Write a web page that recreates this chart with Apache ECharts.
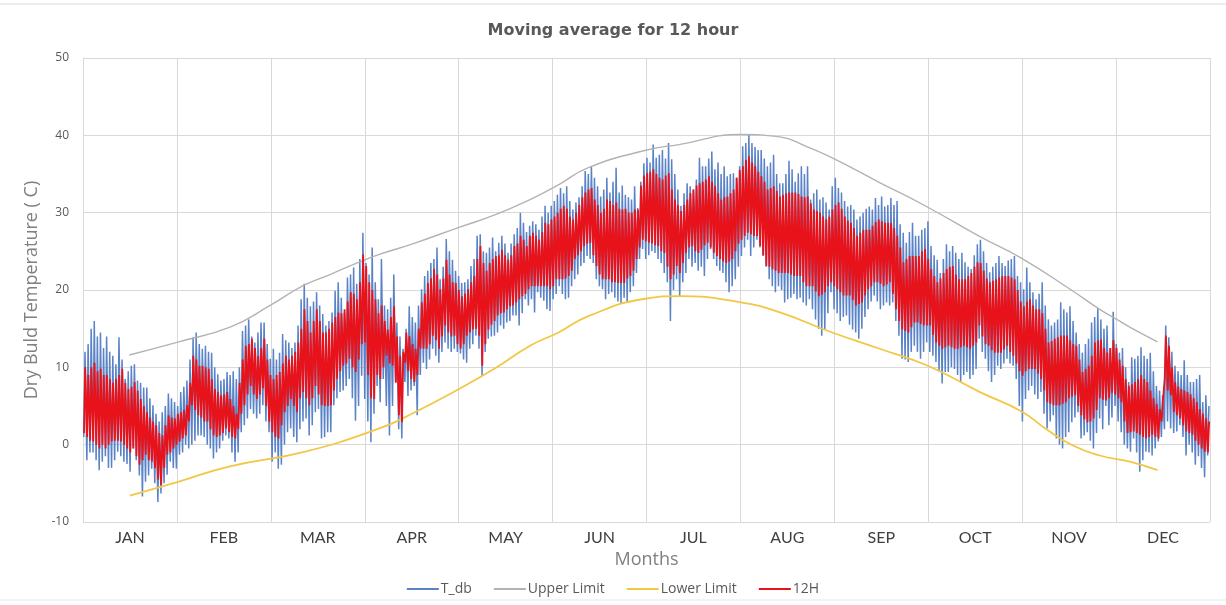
<!DOCTYPE html>
<html>
<head>
<meta charset="utf-8">
<script src="https://cdn.jsdelivr.net/npm/echarts@6/dist/echarts.min.js"></script>
<style>
html,body{margin:0;padding:0;background:#fff;}
#chart{width:1226px;height:605px;}
</style>
</head>
<body>
<div id="chart"></div>
<script>
// ---- DATA ----
const months = ['JAN','FEB','MAR','APR','MAY','JUN','JUL','AUG','SEP','OCT','NOV','DEC'];
const yTicks = [-10, 0, 10, 20, 30, 40, 50];

// Daily maximum / minimum of hourly dry bulb temperature (T_db), day 0..364
const tdbMax = [
12,13,15,16,14,14.5,12.5,14,12,11.5,
10.4,13.9,11,8.5,9.5,10.2,10.4,8.3,8,7.4,
7.4,6,5.1,4,3,4.2,5,6.6,6,5.5,
5,6.8,7.5,8.3,11,13.9,14.5,13,12.4,12.8,
12,11.9,10,9.1,8.3,8.5,9.4,9,9.5,8.5,
10,14.7,15.4,16.2,14,13.2,14.5,15.8,15.8,13,
11.1,12.4,11,11.9,14.3,13.5,13.2,12.5,13.2,15.4,
18.8,20.8,19,17.9,18.5,19.7,18,16.9,15.4,16,
17.1,19.9,21,19,17.1,21.6,22,22.9,20.8,24,
27.4,23.5,22,25.5,21,18.8,24,18,17.5,19,
22,15.8,14,12.4,15,17.9,16.5,15.8,18,20.1,
21.8,22.5,23.5,24,25.5,21.4,23,26.6,25,23.9,
22.5,21.8,20.9,21,21.4,23.1,24,27,27.2,25,
24.8,25.5,26.8,25,26.1,27,26,24.8,26,27.2,
28,30,28.7,27.5,28.3,28.9,28.5,27.8,29.5,30.9,
30,30.9,31.5,32.3,33.2,32.5,33.4,31.5,30.4,31.3,
32,33.4,35.4,35,36,34.5,33.4,32.1,33,34.5,
32.6,34,35.8,32.6,33.5,32.3,32,31.7,33.4,30.6,
34,36.4,37.1,36.5,38.8,37.1,37.5,38.1,37,39,
36.9,35,33,30.9,32.5,33.8,33.4,33,34.3,37.1,
36,36,37,37.9,35.6,36.5,35,36,34.7,35,
35.1,34.5,36,38.6,39,40.1,39,38.5,38.1,38.1,
37,36,36.5,37.5,35,33.8,33.8,35,36.7,35.6,
34,35.1,36,35,36,31.7,32.5,33,31.7,32,
31.3,30.4,33.4,34.5,33.2,32.6,31.5,30.8,31,30.4,
29.1,29.5,30,30.5,30.8,30.4,31.9,31,32.1,30.8,
31,31.9,31,31.5,28.5,27.4,26.1,27.5,28.7,27,
27,27.8,28,28.9,25.7,24.5,23.9,22.2,24,25.9,
25,25.7,24.8,24,24.8,23.6,23,22.7,24.5,25.9,
26.5,25,23.5,22.3,23,23.5,24.4,23.5,23.1,23.8,
24,24.4,21.8,21,20.1,22.9,21,19.7,18.8,19.5,
21,18,16.2,15.4,15.8,16.2,18.4,17.5,17.1,17.9,
16,14.5,13,11.9,13,13.7,15.8,16.5,17.7,16.2,
15,15.4,12.4,17.2,13,11.9,12.5,10,8.1,11.3,
11.1,11.5,12.6,11.5,11.1,11.9,9.5,7.6,7,6.4,
15.4,13.9,12,10.2,9.5,9,10.9,9,8.1,8.1,8.5,9,5.5,6.4,5
];
const tdbMin = [
1,-2,-1,-1,-2,-3.3,-2.2,-1.5,-3,-3,
-2,-0.9,-1.5,-2.2,-2.5,-3.5,-0.5,-2,-4,-6.7,
-4.8,-4,-3.1,-5,-7.4,-6.3,-5,-3.9,-2.2,-3,
-3.1,-1.3,-1,0,-0.5,0,0.5,1.2,1.2,1,
0,-0.5,-1.8,-1,-0.5,0.5,1.2,0.8,-1,-2.2,
-1,1.6,2.5,3.4,4.6,4,3.4,4,5.1,3,
1.6,-2.2,-1,-3.1,-2.6,0,1.6,2.1,1,0.3,
2,3,3.4,1.2,2.5,4.2,4.6,0.8,1,1.6,
1.6,5.1,6,6.8,7,7.6,8.5,6,3.1,5,
8.9,5.9,3,0.3,4,7.6,5.5,8.5,5,1.2,
5,8.1,2,0.8,8.1,6.3,7,7.6,3.8,9,
10.6,9.8,11,12.4,11.5,10.6,12,13.2,12.4,12,
12.4,12,11.8,11,10.6,12.4,13,14.1,12.4,8.9,
12,13.7,14,14.1,14.5,15.4,15,15.8,16,16.7,
16.7,15.4,17,18.8,18,18.8,17.1,19.7,19,18.6,
17.5,17.3,18.8,19.5,20.5,19.5,18.8,19,20.5,21.4,
22,23.1,23.5,24.4,24,23.5,21.4,20.5,20.1,18.8,
19.5,19.7,19,18.5,18.2,19,18.4,19.7,20.5,22.2,
24,25.3,24,24.5,25,24.8,24,23.5,22.2,21,
16,20,21.4,19.2,21,22.2,24,23,23.5,22.5,
23,21.8,24,25.3,24,23.1,22.5,22.2,21,19.7,
20.5,21.4,23,24.4,25.5,26.5,24.4,25.5,26.5,25.5,
24.4,23,21.4,20.5,19.7,20.5,20,18.4,18.8,19,
19.5,18.8,19,18.4,18,18.8,17.5,16.2,15,14.1,
14.9,17,19.7,17.5,17,16,16.5,16.7,15.5,14.9,
14.5,13.7,15,16.5,17.5,18.5,19.3,18.5,17.5,18,
18.4,18,18.4,16,14.1,11.1,11,10.7,12,12.8,
12,11.1,12,13.2,12,11.5,10.7,9.5,7.9,9.4,
9.4,10,9.8,9,8.1,9,9.4,8.5,9,9.8,
13.7,12,11.1,9.5,8.1,9,10.2,9.8,10.5,11.1,
10.5,10.2,8.5,5,3,5.9,7,7.6,6.5,5.9,
6.8,4,2.1,3,3.8,0.8,0,-0.5,1,1.6,
2.9,3.5,4.2,0.8,1.2,1.6,0.5,-0.5,1.5,3.4,
2,5,2.5,3.5,5,3,1.6,0,-0.5,-0.9,
0.8,-1,-3.5,-2,-0.9,-1,-1.4,-0.5,0.4,1,
2,3,2.1,1.5,1.7,2.5,1,-1.4,0,-1,-2.6,-1.5,-3,-4.2,-1.4
];

// Daily maximum / minimum of the 12-hour moving average (12H), day 0..364
const h12Max = [
10,9,10,10.6,9.5,9.8,9,9,8.5,8,
8.5,9,9.8,8,7.2,7.5,8.1,7,5.9,5,
4.2,3.5,3,2.5,1.5,1.2,2.5,3.8,3.5,3.4,
4,4.2,4.5,5.1,8,11.5,11,10.2,10.2,10,
9.8,8.5,7.2,6.8,6.4,6.5,6.8,5.9,5,4,
8,11,12.8,13,13.7,12.5,11.5,12.5,13.7,11,
9,8.5,9,9.4,10.5,11.5,11,11.5,12,13.2,
15,17.5,16,14.5,16,17.5,16,14.5,14.5,15,
15.8,16.5,17.1,17,17.5,18.5,19.7,19.5,18.8,21,
24.6,23.1,21,20,18.8,17,18,16,14.9,16.5,
17.9,14,11.5,12,14.5,14,13,12.4,15,18.4,
19.5,20.9,21.5,22.7,22,20.1,21.5,23.9,22,21,
20.9,20,19.2,19.5,20.1,21,21.8,24,25.7,23.5,
22.5,23.5,24,24.4,24.5,25.2,24.5,23.9,24.5,25.7,
26,27,26.5,25.7,27,27.4,27,26.5,27.5,28.7,
28.5,29.1,29.5,30,30.5,30.9,30.5,29.5,29.1,30,
31,32,32.6,33,33.2,31.7,31,30,30.5,31.7,
31.5,31,31.3,30.5,30.4,30.5,30,30,30.4,30.4,
33.5,34.8,35.1,35.3,35.6,35,34.5,34.3,34.8,35.1,
33,31.7,31,30.2,31,31.7,32.5,33,33.5,33.8,
34,34.3,34.7,34,33.4,32.5,31.7,32,32.1,32.5,
33,34.5,35.5,36,36.8,37.3,36.5,36,35.3,34.7,
34,33,33.2,33.4,32.8,32.1,32.3,32.5,32.6,32.6,
32.6,32.4,32.1,32,32.1,31.2,30.4,30.2,30,29.5,
29.1,29.5,30.4,31,31.3,30.5,29.5,29,28.7,28,
27,27.4,27.8,27.8,27.8,28.3,28.8,29.1,28.9,28.7,
28.7,28.7,28,27,25.5,23.6,24,24.4,24.4,24.4,
24.4,25,25.3,24,22.7,21.8,21,21.5,22.2,22.7,
23,23.1,22,21.4,21.4,21.4,21.8,22.2,23,23.6,
23.5,22.5,21.5,21,21.2,21.4,21.6,21.8,21.8,21.8,
21.6,21.4,20,18.5,17.9,18.5,18.8,18,17.5,17.5,
17,15,13.2,13.4,13.7,13.9,14.1,14.1,14.1,13.5,
13,12.8,11,9.4,9.8,10.2,11.5,13.2,13.5,13.6,
12.5,11.9,12.5,13.5,12.5,11,10.2,8.5,7.6,7.8,
8.1,8.5,9,8.5,8.1,7,6,5.3,4.6,5.5,
14.1,12.8,10,8.1,7.5,7.2,7,6.8,6.5,6,5.5,4.6,4,3.4,3
];
const h12Min = [
1.5,1,0.5,0.4,0,-0.5,0,-0.5,0,0.4,
0.5,0.5,0.4,0,-0.5,-1,-0.5,-1.5,-2.6,-2,
-1.3,-2,-2.2,-3,-4.5,-5.2,-3,-1.3,-1,-0.5,
0,0.4,0.8,1.2,3,5.1,4.5,3.8,3.5,3,
3,2,1.2,1,1.2,1.5,2.1,1.6,1,0.8,
2,4,5.1,6.5,7.6,6.5,5.9,6.5,7.3,5,
3,1.6,1,0.8,2.5,4.2,5,5.9,5,4.2,
6,6.8,6,5.1,6,7.6,6.5,5.1,5,5,
5.1,7,8.5,9.5,10.2,10.5,11.1,10,9.4,11,
13,13.2,9,6,5.9,9,8.5,10,11.5,10.5,
10.2,8,3.8,2.9,10.6,9.5,8.5,8.1,9,12.4,
12.4,12.4,13,14.1,13.5,12.4,14,15.4,14.5,14,
14.1,13,12.4,13,14.1,14.5,14.9,15,14.1,10.2,
13,14.9,15.5,16,16.7,17,17.1,17.5,17.9,18,
18.4,18.8,19.2,19.5,20.1,20.5,20.5,20.5,20.5,20.5,
20.5,20.1,20.5,21.4,21.4,21.4,21.5,21.8,22.5,24,
24.5,25,25.7,26,26.1,24.5,23.1,22,21.4,21.4,
21.4,21,21,20.9,20.9,20.9,21.5,21.8,22.5,24,
25.5,26.5,26.3,26.1,26,25.8,25.7,25,24.8,23,
21.4,22,23.1,22.2,23.5,24.8,25.5,25.7,25,24.8,
25.2,25.8,26.1,25.5,24.8,24.4,24,23.7,23.5,23.7,
24,25,26,26.5,27,27.4,27.2,27,27,25.7,
24.5,23.1,23,22.7,22.5,22.2,22.2,22.2,22.2,22,
21.8,21.8,21.8,21,20.5,20.5,20.5,19.8,19.2,19.4,
19.7,20.5,21,20.5,20.1,19.7,19.3,19.3,19.3,18.7,
18,18.2,18.4,19.3,20.1,20.5,21,21,20.8,20.5,
20.7,21,19.5,17.5,16,14.9,14.7,14.5,15.2,15.8,
15.8,15.6,15.4,15.4,15.4,14.2,13.2,12.8,12.4,12.6,
12.8,12.6,12.4,12.4,12.6,12.8,12.6,12.4,12.8,13.2,
15.4,14,13,12.8,12.2,11.9,11.9,11.9,12.3,12.8,
12,11.5,10.5,9.5,8.9,9.5,9.8,9.8,9.8,9.2,
8.5,7,5.5,5.3,5.1,5.1,5.1,5.3,5.5,6,
6.2,6.4,5,3.8,3.3,2.9,3,3.4,4.5,6,
5.8,5.7,6,6.7,6.5,6,5.5,3,1.5,1.6,
1.7,1.5,1.3,1,0.8,1,1.3,1,0.8,3,
8.5,7,6.4,4.2,3.8,3.4,2.5,1.7,1.5,1.3,0.5,0,-0.5,-0.9,-1
];

// Upper / Lower comfort limits: [day of year, temperature]
const upperLimit = [
[15,11.6],[31,13.3],[47.6,15.2],[60.6,18],[71,20.5],[80,22],[90,23.7],[96,24.6],[107,26],
[121.8,28.1],[134,29.8],[144.8,31.7],[154,33.6],[163.5,35.8],[182.6,38.1],[193,38.8],
[213,40.1],[225.7,39.8],[234,38.6],[242,37.2],[258,33.9],[273.6,30.7],[290.5,26.9],
[304,24.1],[319.7,20.1],[329.3,17.5],[334.8,16.2],[339,15.2],[348,13.3]
];
const lowerLimit = [
[15.2,-6.6],[30.8,-4.8],[47.6,-2.8],[72,-0.9],[96,2.1],[107,4.1],[121.8,7.2],[134,10],
[144.8,12.8],[154,14.5],[163.5,16.6],[182.6,18.9],[193,19.2],[213,18.4],[225.7,17.1],
[242,14.6],[258,12.4],[273.6,10.2],[290.5,6.8],[304,4.3],[312,2],[320.6,-0.1],
[329.3,-1.4],[339,-2.2],[348,-3.3]
];

// ---- build hourly-like zigzag series from daily extremes ----
const tdbSeries = [];
const h12Series = [];
for (let d = 0; d < tdbMax.length; d++) {
  tdbSeries.push([d + 0.25, tdbMin[d]], [d + 0.65, tdbMax[d]]);
}
for (let d = 0; d < h12Max.length; d++) {
  h12Series.push([d + 0.32, h12Min[d]], [d + 0.72, h12Max[d]]);
}

const chart = echarts.init(document.getElementById('chart'), null, {renderer: 'canvas'});
const gridColor = '#d9d9d9';
chart.setOption({
  animation: false,
  backgroundColor: '#ffffff',
  title: {
    text: 'Moving average for 12 hour',
    left: 'center',
    top: 18,
    textStyle: {fontFamily: 'DejaVu Sans', fontWeight: 'bold', fontSize: 16, color: '#595959'}
  },
  graphic: [
    {type: 'line', shape: {x1: 0, y1: 4, x2: 1226, y2: 4}, style: {stroke: '#d9d9d9', lineWidth: 1}, silent: true},
    {type: 'line', shape: {x1: 0, y1: 600, x2: 1226, y2: 600}, style: {stroke: '#e6e6e6', lineWidth: 1}, silent: true}
  ],
  legend: {
    left: 'center',
    top: 577,
    icon: 'rect',
    itemWidth: 32,
    itemHeight: 2,
    itemGap: 22,
    textStyle: {fontFamily: 'Open Sans', fontSize: 14, color: '#595959', padding: [0, 0, 0, -3]},
    data: ['T_db', 'Upper Limit', 'Lower Limit', '12H']
  },
  grid: {left: 83, right: 16, top: 58, bottom: 83, containLabel: false},
  xAxis: [
    {
      type: 'value', min: 0, max: 365, interval: 365 / 12,
      axisLabel: {show: false},
      axisTick: {show: false},
      axisLine: {show: true, lineStyle: {color: gridColor}},
      splitLine: {show: true, lineStyle: {color: gridColor, width: 1}}
    },
    {
      type: 'category', data: months, position: 'bottom', boundaryGap: true,
      axisLine: {show: false}, axisTick: {show: false}, splitLine: {show: false},
      axisLabel: {fontFamily: 'Lato', fontSize: 16, color: '#404040', margin: 8},
      name: 'Months', nameLocation: 'middle', nameGap: 27,
      nameTextStyle: {fontFamily: 'Open Sans', fontSize: 18, color: '#808080'}
    }
  ],
  yAxis: {
    type: 'value', min: yTicks[0], max: yTicks[yTicks.length - 1], interval: 10,
    name: 'Dry Buld Temperature ( C)', nameLocation: 'middle', nameGap: 42,
    nameTextStyle: {fontFamily: 'Open Sans', fontSize: 18, color: '#808080'},
    axisLabel: {fontFamily: 'Open Sans', fontSize: 12, color: '#595959', margin: 14},
    axisTick: {show: false},
    axisLine: {show: true, lineStyle: {color: gridColor}},
    splitLine: {show: true, lineStyle: {color: gridColor, width: 1}}
  },
  series: [
    {
      name: 'T_db', type: 'line', xAxisIndex: 0, data: tdbSeries,
      symbol: 'none', lineStyle: {color: '#5a83c7', width: 1.5}, itemStyle: {color: '#5a83c7'}, z: 2
    },
    {
      name: 'Upper Limit', type: 'line', xAxisIndex: 0, data: upperLimit, smooth: true,
      symbol: 'none', lineStyle: {color: '#b3b3b3', width: 1.4}, itemStyle: {color: '#b3b3b3'}, z: 3
    },
    {
      name: 'Lower Limit', type: 'line', xAxisIndex: 0, data: lowerLimit, smooth: true,
      symbol: 'none', lineStyle: {color: '#f2c744', width: 1.8}, itemStyle: {color: '#f2c744'}, z: 3
    },
    {
      name: '12H', type: 'line', xAxisIndex: 0, data: h12Series,
      symbol: 'none', lineStyle: {color: '#e8121b', width: 1.8}, itemStyle: {color: '#e8121b'}, z: 4
    }
  ]
});
</script>
</body>
</html>
